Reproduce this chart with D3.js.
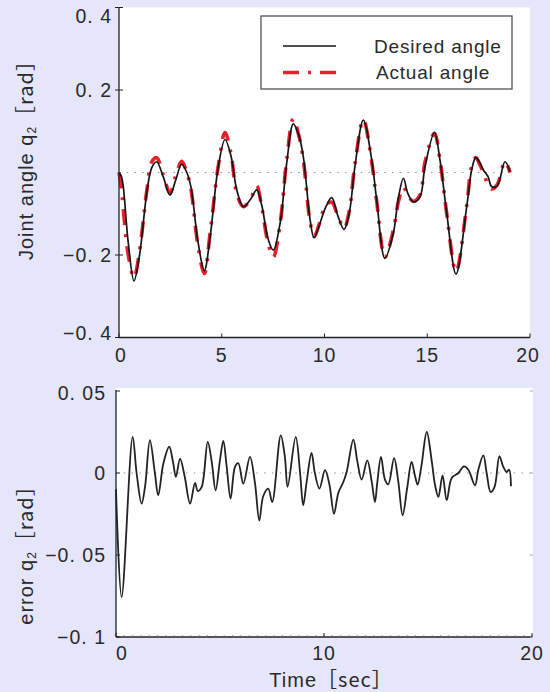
<!DOCTYPE html>
<html><head><meta charset="utf-8">
<script src="https://cdn.jsdelivr.net/npm/d3@7/dist/d3.min.js"></script>
<style>
html,body{margin:0;padding:0;background:#e6e6fa;}
svg{display:block;font-family:"Liberation Sans",Arial,sans-serif;}
</style></head>
<body>
<svg id="c" width="550" height="692"></svg>
<script>
// ---------- DATA ----------
const angleTime = [0,0.12,0.21,0.45,0.73,1.0,1.35,1.59,1.83,2.15,2.48,2.75,3.05,3.3,3.5,3.85,4.15,4.45,4.83,5.16,5.45,5.73,6.05,6.4,6.7,6.95,7.25,7.51,7.85,8.16,8.48,8.75,8.97,9.3,9.49,9.78,10.05,10.35,10.65,10.95,11.2,11.48,11.89,12.3,12.54,12.94,13.35,13.6,13.84,14.05,14.32,14.64,14.89,15.35,15.62,15.95,16.4,16.92,17.16,17.36,17.55,17.73,17.96,18.13,18.4,18.78,19.03];
const desiredAngle = [0,-0.01,-0.035,-0.17,-0.263,-0.2,-0.05,0.011,0.026,-0.01,-0.055,-0.02,0.02,0,-0.035,-0.17,-0.238,-0.15,0.014,0.08,0.04,-0.042,-0.083,-0.065,-0.042,-0.08,-0.16,-0.188,-0.12,0.022,0.118,0.09,0.038,-0.115,-0.158,-0.123,-0.085,-0.061,-0.105,-0.138,-0.1,0.014,0.127,0.03,-0.067,-0.208,-0.147,-0.06,-0.014,-0.05,-0.071,-0.06,0.014,0.097,0.03,-0.099,-0.246,-0.083,0.006,0.036,0.025,0.006,-0.01,-0.034,-0.033,0.026,0.002];
const actualAngle  = [0,-0.04,-0.09,-0.2,-0.255,-0.19,-0.045,0.025,0.036,-0.005,-0.05,-0.01,0.027,0,-0.04,-0.18,-0.245,-0.14,0.015,0.097,0.045,-0.05,-0.083,-0.065,-0.032,-0.085,-0.17,-0.205,-0.12,0.03,0.13,0.09,0.03,-0.12,-0.155,-0.12,-0.08,-0.072,-0.105,-0.135,-0.095,0.02,0.128,0.025,-0.07,-0.205,-0.14,-0.07,-0.036,-0.055,-0.07,-0.055,0.025,0.095,0.03,-0.1,-0.24,-0.08,0.015,0.036,0.02,0,-0.03,-0.04,-0.03,0.026,0];

const errorTime = [0,0.27,0.8,0.99,1.23,1.4,1.63,1.87,2.03,2.28,2.56,2.75,2.88,3.08,3.3,3.56,3.8,3.93,4.12,4.41,4.6,4.79,5.0,5.16,5.32,5.51,5.72,5.88,6.12,6.44,6.68,6.89,7.08,7.32,7.51,7.92,8.12,8.25,8.64,8.85,9.0,9.16,9.4,9.56,9.78,10.05,10.26,10.48,10.69,10.93,11.09,11.41,11.6,11.81,12.08,12.29,12.45,12.56,12.74,12.93,13.09,13.37,13.57,13.78,14.0,14.21,14.38,14.5,14.68,14.94,15.18,15.34,15.5,15.7,15.9,16.14,16.46,16.73,16.94,17.26,17.42,17.66,17.82,18.01,18.2,18.43,18.61,18.78,18.9,18.99];
const errorValue = [-0.01,-0.0756,0.022,0,-0.0187,-0.008,0.02,0,-0.0136,0.006,0.016,0.006,-0.0024,0.0088,-0.002,-0.0187,-0.006,-0.011,-0.0085,0.019,0.007,-0.0106,0.008,0.0195,0.004,-0.0156,0.0037,0.006,-0.0065,0.0098,-0.006,-0.029,-0.014,-0.0095,-0.0177,0.023,0.0098,-0.0085,0.022,0,-0.0197,-0.006,0.0122,0,-0.0095,0.0017,-0.007,-0.0248,-0.012,-0.0055,0.0006,0.0203,0.0073,-0.004,0.0077,-0.005,-0.0177,-0.006,0.0098,-0.004,-0.0069,0.0091,-0.005,-0.0258,-0.009,0.0067,-0.002,-0.0071,0.004,0.025,0.0073,-0.0075,-0.0146,-0.0014,-0.0166,-0.003,0,0.004,0.002,-0.0075,0.002,0.0108,0,-0.0116,-0.0085,0.0102,0.004,0.0006,0.002,-0.0081];

const topYTicks = [0.4,0.2,-0.2,-0.4];
const topYLabels = ["0. 4","0. 2","\u22120. 2","\u22120. 4"];
const topXTicks = [0,5,10,15,20];
const botYTicks = [0.05,0,-0.05,-0.1];
const botYLabels = ["0. 05","0","\u22120. 05","\u22120. 1"];
const botXTicks = [0,10,20];
const legendLabels = ["Desired angle","Actual angle"];

// ---------- DRAW ----------
const svg = d3.select("#c");
const textCol = "#2a2a2a";
const FS = 19.5, LS = 1;

const x1 = d3.scaleLinear().domain([0,20]).range([119,530]);
const y1 = d3.scaleLinear().domain([-0.4,0.4]).range([337.5,7.5]);
const x2 = d3.scaleLinear().domain([0,20]).range([116,532]);
const y2 = d3.scaleLinear().domain([-0.1,0.05]).range([637,391]);

svg.append("rect").attr("x",x1(0)).attr("y",y1(0.4)).attr("width",x1(20)-x1(0)).attr("height",y1(-0.4)-y1(0.4)).attr("fill","#fff");
svg.append("rect").attr("x",x2(0)).attr("y",388).attr("width",x2(20)-x2(0)+1).attr("height",y2(-0.1)-388).attr("fill","#fff");

svg.append("line").attr("x1",x1(0)).attr("x2",x1(19)).attr("y1",y1(0)).attr("y2",y1(0))
  .attr("stroke","#888").attr("stroke-width",1.2).attr("stroke-dasharray","1.3,6.5");
svg.append("line").attr("x1",x2(0)).attr("x2",x2(20)).attr("y1",y2(0)).attr("y2",y2(0))
  .attr("stroke","#888").attr("stroke-width",1.2).attr("stroke-dasharray","1.3,6.5");

const topPts = (vals)=>angleTime.map((t,i)=>[t,vals[i]]);
const line1 = d3.line().x(d=>x1(d[0])).y(d=>y1(d[1])).curve(d3.curveCatmullRom.alpha(0.5));
svg.append("path").attr("d",line1(topPts(actualAngle))).attr("fill","none")
  .attr("stroke","#e8202a").attr("stroke-width",3.6).attr("stroke-dasharray","16,9,3,9");
svg.append("path").attr("d",line1(topPts(desiredAngle))).attr("fill","none")
  .attr("stroke","#151515").attr("stroke-width",1.7);

const line2 = d3.line().x(d=>x2(d[0])).y(d=>y2(d[1])).curve(d3.curveCatmullRom.alpha(0.5));
svg.append("path").attr("d",line2(errorTime.map((t,i)=>[t,errorValue[i]]))).attr("fill","none")
  .attr("stroke","#222").attr("stroke-width",1.8).attr("stroke-linejoin","round");

const axCol = "#222";
svg.append("line").attr("x1",x1(0)).attr("x2",x1(0)).attr("y1",y1(0.4)).attr("y2",y1(-0.4)).attr("stroke",axCol).attr("stroke-width",1.3);
svg.append("line").attr("x1",x1(0)).attr("x2",x1(20)).attr("y1",y1(-0.4)).attr("y2",y1(-0.4)).attr("stroke",axCol).attr("stroke-width",1.3);
topYTicks.forEach((v,i)=>{
  svg.append("line").attr("x1",x1(0)-4).attr("x2",x1(0)+4).attr("y1",y1(v)).attr("y2",y1(v)).attr("stroke",axCol);
  const yy = Math.min(Math.max(y1(v),16),333);
  svg.append("text").attr("x",112).attr("y",yy).attr("dy","0.36em").attr("text-anchor","end")
    .attr("font-size",FS).attr("letter-spacing",LS).attr("fill",textCol).text(topYLabels[i]);
});
topXTicks.forEach(v=>{
  svg.append("line").attr("x1",x1(v)).attr("x2",x1(v)).attr("y1",y1(-0.4)).attr("y2",y1(-0.4)-4).attr("stroke",axCol);
  svg.append("text").attr("x",x1(v)+ (v===0?2:(v===20?-2:0))).attr("y",362).attr("text-anchor","middle")
    .attr("font-size",FS).attr("letter-spacing",LS).attr("fill",textCol).text(v);
});

svg.append("line").attr("x1",x2(0)).attr("x2",x2(0)).attr("y1",390).attr("y2",y2(-0.1)).attr("stroke",axCol).attr("stroke-width",1.3);
svg.append("line").attr("x1",x2(0)).attr("x2",x2(20)).attr("y1",y2(-0.1)).attr("y2",y2(-0.1)).attr("stroke",axCol).attr("stroke-width",1.3);
d3.range(0,20.01,0.4).forEach(v=>{
  svg.append("line").attr("x1",x2(v)).attr("x2",x2(v)).attr("y1",y2(-0.1)).attr("y2",y2(-0.1)-2).attr("stroke","#777").attr("stroke-width",0.8);
});
botYTicks.forEach((v,i)=>{
  svg.append("line").attr("x1",x2(0)).attr("x2",x2(0)+4).attr("y1",y2(v)).attr("y2",y2(v)).attr("stroke",axCol);
  svg.append("line").attr("x1",x2(20)+1).attr("x2",x2(20)-2).attr("y1",y2(v)).attr("y2",y2(v)).attr("stroke","#aaa");
  const yy = Math.min(Math.max(y2(v),393),637);
  svg.append("text").attr("x",106).attr("y",yy).attr("dy","0.36em").attr("text-anchor","end")
    .attr("font-size",FS).attr("letter-spacing",LS).attr("fill",textCol).text(botYLabels[i]);
});
botXTicks.forEach(v=>{
  svg.append("line").attr("x1",x2(v)).attr("x2",x2(v)).attr("y1",y2(-0.1)).attr("y2",y2(-0.1)-4).attr("stroke",axCol);
  svg.append("text").attr("x",x2(v)+(v===0?6:0)).attr("y",660).attr("text-anchor","middle")
    .attr("font-size",FS).attr("letter-spacing",LS).attr("fill",textCol).text(v);
});

function titleText(sel, pre, post){
  sel.append("tspan").text(pre);
  sel.append("tspan").attr("font-size",12).attr("dy",3).text("2");
  sel.append("tspan").attr("dy",-3).attr("font-family","'Noto Sans CJK SC',sans-serif").attr("font-size",20).text(post);
}
const t1 = svg.append("text").attr("transform","translate(33,155) rotate(-90)").attr("text-anchor","middle")
  .attr("font-size",20).attr("letter-spacing",1).attr("fill",textCol);
titleText(t1,"Joint angle q","\uFF3Brad\uFF3D");
const t2 = svg.append("text").attr("transform","translate(33,550) rotate(-90)").attr("text-anchor","middle")
  .attr("font-size",20).attr("letter-spacing",1).attr("fill",textCol);
titleText(t2,"error q","\uFF3Brad\uFF3D");
const t3 = svg.append("text").attr("x",331).attr("y",687).attr("text-anchor","middle")
  .attr("font-size",20).attr("letter-spacing",1).attr("fill",textCol);
t3.append("tspan").text("Time");
t3.append("tspan").attr("font-family","'Noto Sans CJK SC',sans-serif").attr("font-size",20).text("\uFF3Bsec\uFF3D");

const lg = svg.append("g");
lg.append("rect").attr("x",261).attr("y",16).attr("width",251).attr("height",73).attr("fill","#fff").attr("stroke","#555").attr("stroke-width",1.3);
const legStyles = [{c:"#151515",w:1.7,d:null},{c:"#e8202a",w:3.6,d:"16,9,3,9"}];
legendLabels.forEach((lab,i)=>{
  const yy = 46 + i*26.5;
  const ln = lg.append("line").attr("x1",283).attr("x2",336).attr("y1",yy).attr("y2",yy)
    .attr("stroke",legStyles[i].c).attr("stroke-width",legStyles[i].w);
  if(legStyles[i].d) ln.attr("stroke-dasharray",legStyles[i].d);
  lg.append("text").attr("x",i===0?374:376).attr("y",yy).attr("dy","0.36em")
    .attr("font-size",19).attr("letter-spacing",0.8).attr("fill",textCol).text(lab);
});
</script>
</body></html>
